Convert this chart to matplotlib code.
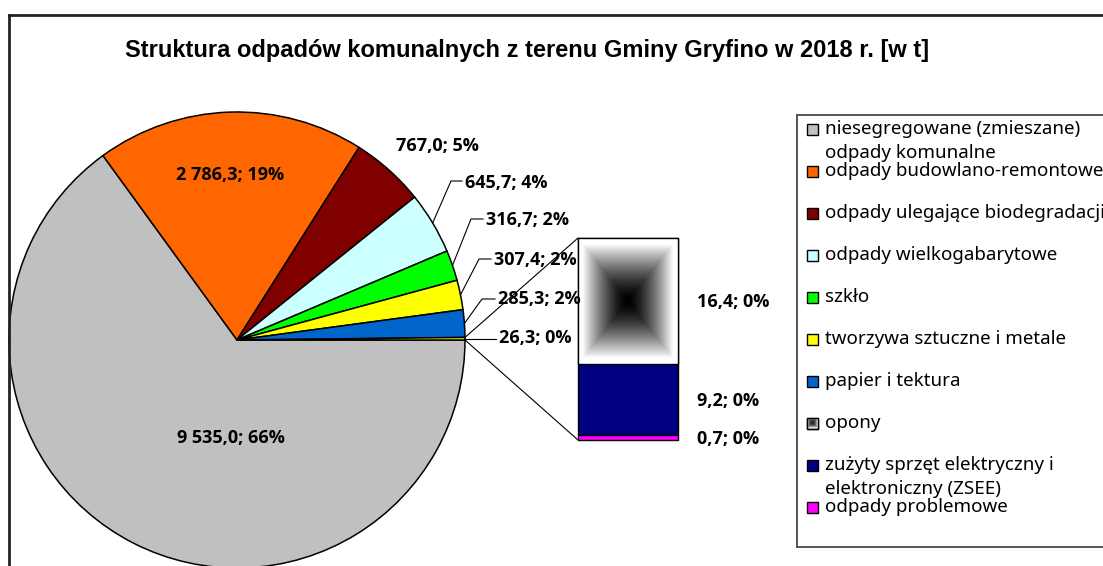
import numpy as np
import matplotlib.pyplot as plt
from matplotlib.patches import Rectangle

W, H = 1103, 566

title = "Struktura odpadów komunalnych z terenu Gminy Gryfino w 2018 r. [w t]"

categories = [
    "niesegregowane (zmieszane)\nodpady komunalne",
    "odpady budowlano-remontowe",
    "odpady ulegające biodegradacji",
    "odpady wielkogabarytowe",
    "szkło",
    "tworzywa sztuczne i metale",
    "papier i tektura",
    "opony",
    "zużyty sprzęt elektryczny i\nelektroniczny (ZSEE)",
    "odpady problemowe",
]

pie_values = [9535.0, 2786.3, 767.0, 645.7, 316.7, 307.4, 285.3]
pie_pct = [66, 19, 5, 4, 2, 2, 2]
bar_values = [16.4, 9.2, 0.7]
bar_pct = [0, 0, 0]
other_pct = 0

pie_colors = ["#C0C0C0", "#FF6600", "#800000", "#CCFFFF", "#00FF00", "#FFFF00", "#0066CC"]
other_color = "#FFFF00"
bar_colors = ["white", "#000080", "#FF00FF"]

LABEL_FONT = ["Open Sans", "DejaVu Sans"]
LEGEND_FONT = ["Noto Sans", "DejaVu Sans"]
LBL = dict(fontsize=13, fontweight="bold", family=LABEL_FONT)


def Y(py):
    # pixel row -> data y
    return H - py


def fmt(v, p):
    s = f"{v:,.1f}".replace(",", " ").replace(".", ",")
    return f"{s}; {p}%"


def gradient(n=200, gain=1.1, gamma=1.5):
    u = np.linspace(-1, 1, n)
    U, V = np.meshgrid(u, u)
    return np.clip(np.maximum(np.abs(U), np.abs(V)) * gain, 0, 1) ** gamma


fig = plt.figure(figsize=(W / 100, H / 100), dpi=100)
ax = fig.add_axes([0, 0, 1, 1])

# pie
cx, cy, r = 237, 340, 228
other = sum(bar_values)
wedges, _ = ax.pie(pie_values + [other], colors=pie_colors + [other_color],
                   startangle=0, counterclock=False, center=(cx, Y(cy)), radius=r,
                   wedgeprops=dict(edgecolor="black", linewidth=1.1))


def edge_point(angle):
    a = np.deg2rad(angle)
    return cx + r * np.cos(a), Y(cy) + r * np.sin(a)


# labels inside / near the pie
ax.text(230, Y(175), fmt(pie_values[1], pie_pct[1]), ha="center", va="center", **LBL)
ax.text(231, Y(438), fmt(pie_values[0], pie_pct[0]), ha="center", va="center", **LBL)
ax.text(437, Y(146), fmt(pie_values[2], pie_pct[2]), ha="center", va="center", **LBL)

# labels with leader lines: (wedge index, text x, text y, elbow x, elbow y)
leaders = [(3, 465, 183, 451, 181), (4, 486, 220, 471, 219),
           (5, 494, 260, 479, 259), (6, 498, 299, 482, 299)]
for i, tx, ty, ex, ey in leaders:
    w = wedges[i]
    sx, sy = edge_point((w.theta1 + w.theta2) / 2)
    ax.plot([sx, ex, tx - 3], [sy, Y(ey), Y(ey)], color="black", lw=0.8, zorder=3)
    ax.text(tx, Y(ty), fmt(pie_values[i], pie_pct[i]), ha="left", va="center",
            zorder=4, **LBL)

w = wedges[-1]
sx, sy = edge_point((w.theta1 + w.theta2) / 2)
ax.plot([sx, 496], [sy, sy], color="black", lw=0.8)
ax.text(499, Y(338), fmt(other, other_pct), ha="left", va="center", **LBL)

# stacked bar for the "other" slice
bx0, bx1, by_top, by_bot = 578, 678, 238, 440
scale = (by_bot - by_top) / other
heights = [v * scale for v in bar_values]
bottoms = [Y(by_bot) + sum(heights[i + 1:]) for i in range(len(heights))]
bars = ax.bar([(bx0 + bx1) / 2] * 3, heights, bottom=bottoms, width=bx1 - bx0,
              color=bar_colors, edgecolor="black", linewidth=1.0, zorder=2)
b = bars[0]
ax.imshow(gradient(), cmap="gray", vmin=0, vmax=1, interpolation="bilinear",
          extent=(b.get_x(), b.get_x() + b.get_width(), b.get_y(), b.get_y() + b.get_height()),
          zorder=2.5, aspect="auto")
ax.add_patch(Rectangle((b.get_x(), b.get_y()), b.get_width(), b.get_height(),
                       fill=False, edgecolor="black", lw=1.0, zorder=3))

# connector lines pie -> bar
p1 = edge_point(max(w.theta1, w.theta2))
p2 = edge_point(min(w.theta1, w.theta2))
top_pt, bot_pt = (p1, p2) if p1[1] >= p2[1] else (p2, p1)
ax.plot([top_pt[0], bx0], [top_pt[1], Y(by_top)], color="black", lw=0.8)
ax.plot([bot_pt[0], bx0], [bot_pt[1], Y(by_bot)], color="black", lw=0.8)

for j, ty in enumerate([302, 401, 439]):
    ax.text(697, Y(ty), fmt(bar_values[j], bar_pct[j]), ha="left", va="center", **LBL)

# title
ax.text(527, Y(50), title, ha="center", va="center", fontsize=17,
        fontweight="bold", family="Liberation Sans")

# legend
ax.plot([797, W + 5], [Y(115), Y(115)], color="#555555", lw=1.4, clip_on=False)
ax.plot([797, 797], [Y(115), Y(547)], color="#555555", lw=1.4)
ax.plot([797, W + 5], [Y(547), Y(547)], color="#555555", lw=1.4)
legend_colors = pie_colors + bar_colors
for k, lab in enumerate(categories):
    iy = 129 + 42 * k
    ax.add_patch(Rectangle((807, Y(iy) - 5.5), 11, 11, facecolor=legend_colors[k],
                           edgecolor="black", lw=1.0, zorder=3))
    if k == 7:
        ax.imshow(0.15 + 0.7 * gradient(11, 1.0, 2.0), cmap="gray", vmin=0, vmax=1,
                  aspect="auto", interpolation="nearest",
                  extent=(807, 818, Y(iy) - 5.5, Y(iy) + 5.5), zorder=3.5)
        ax.add_patch(Rectangle((807, Y(iy) - 5.5), 11, 11, fill=False,
                               edgecolor="black", lw=1.0, zorder=4))
    for n, line in enumerate(lab.split("\n")):
        ax.text(825, Y(iy + 24 * n), line, ha="left", va="center", fontsize=13.5,
                family=LEGEND_FONT)

# chart area border
ax.plot([9, 9], [Y(15), 0], color="#222222", lw=2)
ax.plot([9, W], [Y(15), Y(15)], color="#222222", lw=2)

ax.set_xlim(0, W)
ax.set_ylim(0, H)
ax.set_aspect("auto")
ax.axis("off")

fig.savefig("out.png", dpi=100)
